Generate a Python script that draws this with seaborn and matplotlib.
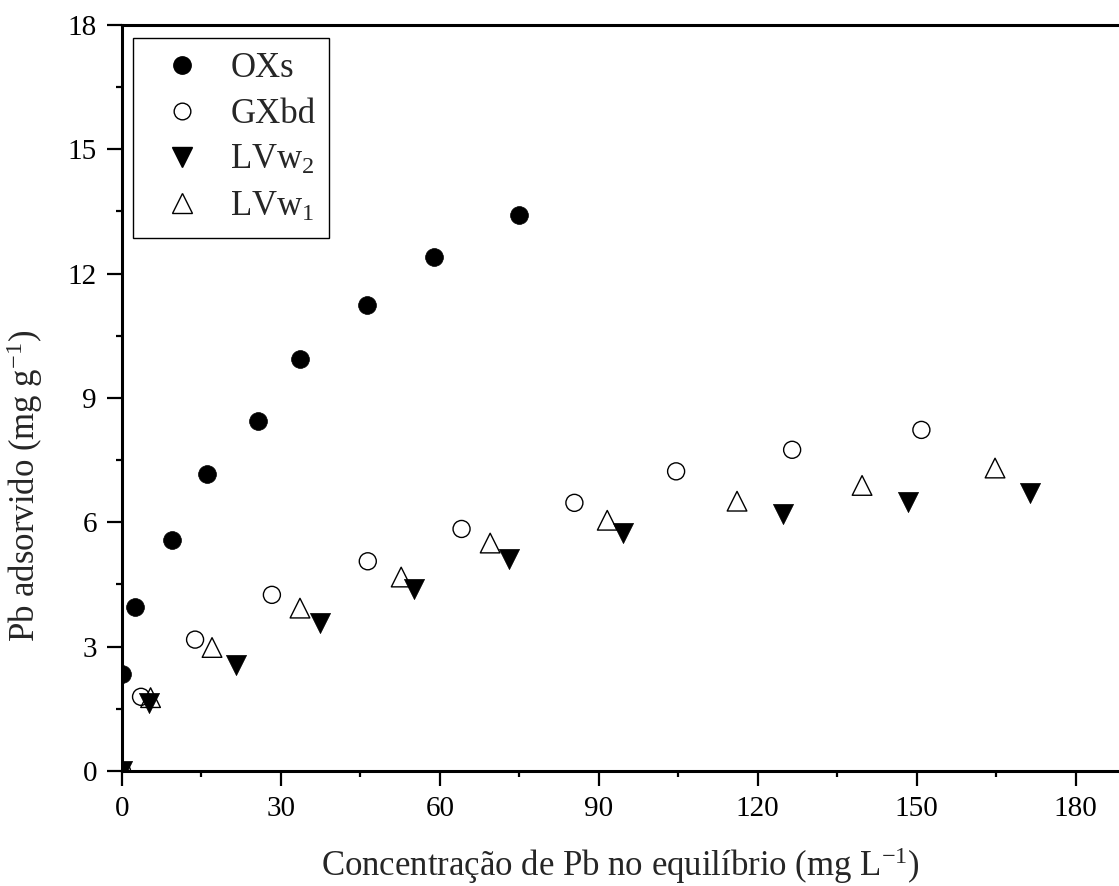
import matplotlib
matplotlib.use('Agg')
import matplotlib.pyplot as plt
import seaborn as sns
import pandas as pd
from matplotlib.ticker import MultipleLocator
from matplotlib.lines import Line2D

# ---- data ----
ox_x = [0.0, 2.45, 9.4, 16.1, 25.6, 33.6, 46.2, 58.9, 74.9]
ox_y = [2.34, 3.96, 5.57, 7.16, 8.45, 9.94, 11.25, 12.39, 13.42]
gx_x = [0.0, 3.6, 13.8, 28.3, 46.4, 64.1, 85.4, 104.6, 126.5, 150.9]
gx_y = [0.0, 1.79, 3.17, 4.25, 5.06, 5.84, 6.47, 7.23, 7.75, 8.23]
lv2_x = [0.0, 5.1, 21.6, 37.4, 55.1, 73.1, 94.6, 124.8, 148.4, 171.4]
lv2_y = [0.0, 1.63, 2.55, 3.56, 4.40, 5.11, 5.75, 6.19, 6.50, 6.70]
lv1_x = [5.4, 17.0, 33.6, 52.7, 69.5, 91.6, 116.1, 139.7, 164.8]
lv1_y = [1.77, 2.98, 3.93, 4.68, 5.50, 6.05, 6.51, 6.89, 7.31]

labels = ["OXs", "GXbd", r"LVw$_{\mathregular{2}}$", r"LVw$_{\mathregular{1}}$"]
xlabel = r"Concentração de Pb no equilíbrio (mg L$^{\mathregular{-1}}$)"
ylabel = r"Pb adsorvido (mg g$^{\mathregular{-1}}$)"

sns.set_style("ticks")
plt.rcParams['font.family'] = ['Liberation Serif', 'DejaVu Serif']
plt.rcParams['mathtext.fontset'] = 'custom'
plt.rcParams['mathtext.rm'] = 'Liberation Serif'
plt.rcParams['mathtext.it'] = 'Liberation Serif:italic'

fig = plt.figure(figsize=(11.19, 8.86), dpi=100)
ax = fig.add_axes([0.109, 0.1298, 0.891, 0.842])

df_ox = pd.DataFrame({"x": ox_x, "y": ox_y})
df_gx = pd.DataFrame({"x": gx_x, "y": gx_y})
df_l2 = pd.DataFrame({"x": lv2_x, "y": lv2_y})
df_l1 = pd.DataFrame({"x": lv1_x, "y": lv1_y})

sns.scatterplot(data=df_ox, x="x", y="y", ax=ax, marker="o", s=165,
                color="black", edgecolor="black", linewidth=0.5, zorder=3)
sns.scatterplot(data=df_gx, x="x", y="y", ax=ax, marker="o", s=150,
                facecolor="none", edgecolor="black", linewidth=1.0, zorder=3)
sns.scatterplot(data=df_l1, x="x", y="y", ax=ax, marker="^", s=200,
                facecolor="none", edgecolor="black", linewidth=1.0, zorder=3)
sns.scatterplot(data=df_l2, x="x", y="y", ax=ax, marker="v", s=210,
                color="black", edgecolor="black", linewidth=0.5, zorder=4)

ax.set_xlim(0, 188.2)
ax.set_ylim(0, 18)
ax.xaxis.set_major_locator(MultipleLocator(30))
ax.xaxis.set_minor_locator(MultipleLocator(15))
ax.yaxis.set_major_locator(MultipleLocator(3))
ax.yaxis.set_minor_locator(MultipleLocator(1.5))

for side in ["left", "bottom", "top"]:
    ax.spines[side].set_linewidth(2.2)
    ax.spines[side].set_color("black")
ax.spines["right"].set_visible(False)

ax.tick_params(which="major", direction="out", length=11, width=1.6,
               labelsize=21, pad=7, color="black", labelcolor="black")
ax.tick_params(which="minor", direction="out", length=4.5, width=1.6, color="black")
ax.tick_params(top=False, right=False, which="both")

ax.set_xlabel(xlabel, fontsize=25)
ax.set_ylabel(ylabel, fontsize=25)
ax.xaxis.set_label_coords(0.5, -0.099)
ax.yaxis.set_label_coords(-0.077, 0.382)

handles = [
    Line2D([], [], ls="none", marker="o", ms=12.5, mfc="black", mec="black"),
    Line2D([], [], ls="none", marker="o", ms=12, mfc="none", mec="black", mew=1.0),
    Line2D([], [], ls="none", marker="v", ms=14, mfc="black", mec="black"),
    Line2D([], [], ls="none", marker="^", ms=14, mfc="none", mec="black", mew=1.0),
]
leg = ax.legend(handles, labels, loc="upper left", bbox_to_anchor=(0.011, 0.9826),
                fontsize=25, frameon=True, fancybox=False, edgecolor="black",
                framealpha=1, borderpad=0.4, labelspacing=0.38, handlelength=2.0,
                handletextpad=0.4, borderaxespad=0)
leg.get_frame().set_linewidth(1.0)

fig.savefig("out.png", dpi=100)
